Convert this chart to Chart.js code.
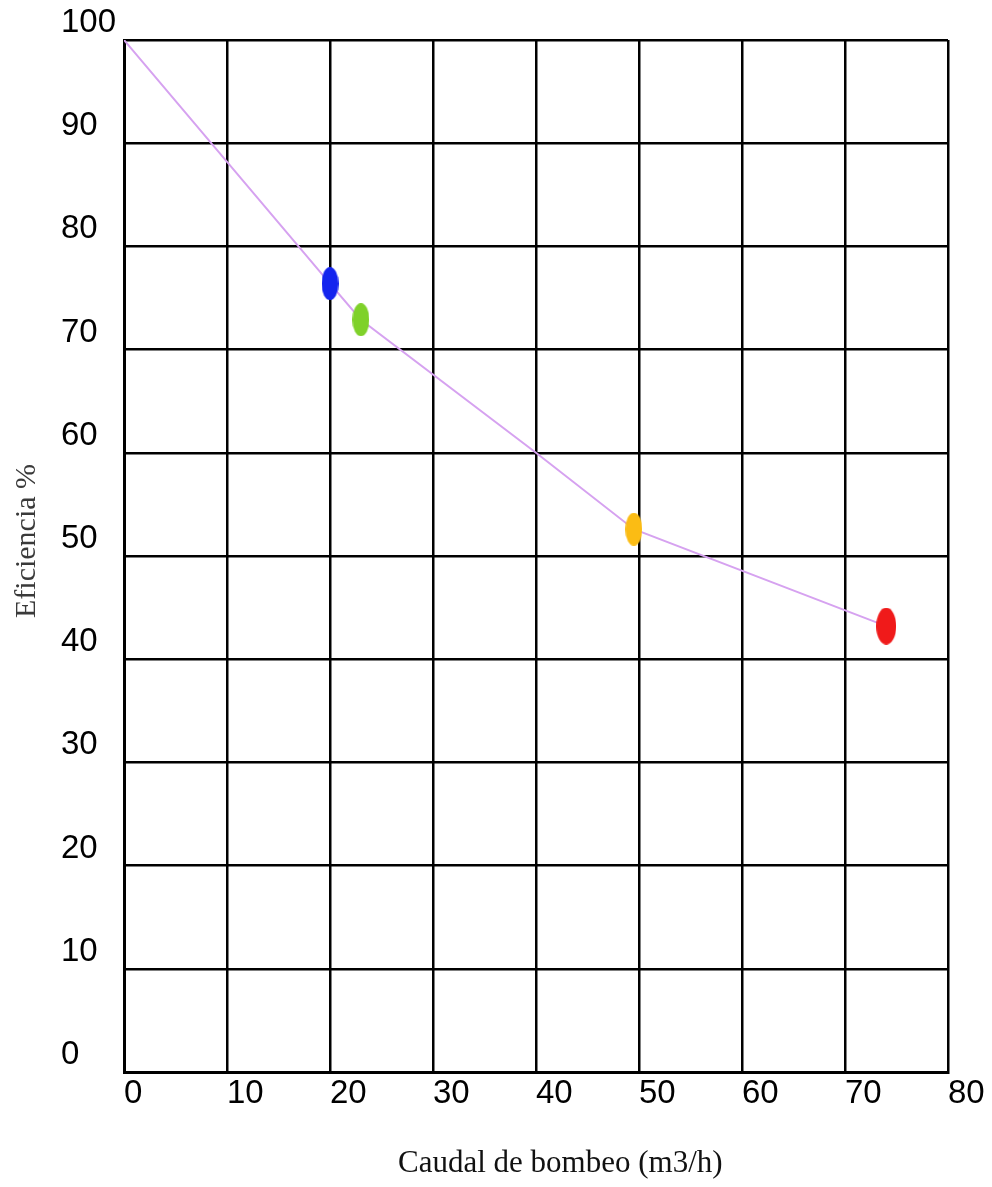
<!DOCTYPE html>
<html>
<head>
<meta charset="utf-8">
<script src="https://cdn.jsdelivr.net/npm/chart.js@4/dist/chart.umd.min.js"></script>
<style>
  html, body { margin: 0; padding: 0; background: #fff; }
  #wrap { position: relative; width: 992px; height: 1187px; }
</style>
</head>
<body>
<div id="wrap"><canvas id="grafico"></canvas></div>
<script>
// curva de eficiencia
const caudalCurva = [0, 20, 23, 40, 49.5, 74];
const eficienciaCurva = [100, 76.4, 72.9, 60, 52.6, 43.2];

// puntos de operación
const caudalPuntos = [20, 23, 49.5, 74];
const eficienciaPuntos = [76.4, 72.9, 52.6, 43.2];
const coloresPuntos = ['#1424ee', '#7fd12a', '#fbbc14', '#f01a1a'];

// ticks
const ticksX = [0, 10, 20, 30, 40, 50, 60, 70, 80];
const ticksY = [0, 10, 20, 30, 40, 50, 60, 70, 80, 90, 100];

const tituloX = 'Caudal de bombeo (m3/h)';
const tituloY = 'Eficiencia %';

// marcador elíptico
function elipse(color, w, h) {
    const c = document.createElement('canvas');
    c.width = w; c.height = h;
    const ctx = c.getContext('2d');
    ctx.fillStyle = color;
    ctx.beginPath();
    ctx.ellipse(w / 2, h / 2, w / 2, h / 2, 0, 0, Math.PI * 2);
    ctx.fill();
    return c;
}
const estilosPuntos = coloresPuntos.map((c, i) => i === 3 ? elipse(c, 20, 37) : elipse(c, 17, 33));

// títulos de ejes
const titulos = {
    id: 'titulos',
    afterDraw(chart) {
        const ctx = chart.ctx;
        ctx.save();
        ctx.fillStyle = '#111';
        ctx.font = '31px "Liberation Serif", "Times New Roman", serif';
        ctx.textAlign = 'left';
        ctx.textBaseline = 'alphabetic';
        ctx.fillText(tituloX, 398, 1172);
        ctx.fillStyle = '#3a3a3a';
        ctx.font = '30px "Liberation Serif", "Times New Roman", serif';
        ctx.translate(35, 618);
        ctx.rotate(-Math.PI / 2);
        ctx.fillText(tituloY, 0, 0);
        ctx.restore();
    }
};

new Chart(document.getElementById('grafico'), {
    type: 'scatter',
    data: {
        datasets: [{
            data: caudalPuntos.map((x, i) => ({ x, y: eficienciaPuntos[i] })),
            pointStyle: estilosPuntos,
            pointRadius: 10,
            showLine: false
        }, {
            data: caudalCurva.map((x, i) => ({ x, y: eficienciaCurva[i] })),
            showLine: true,
            borderColor: '#d6a2f0',
            borderWidth: 2,
            pointRadius: 0,
            tension: 0
        }]
    },
    options: {
        responsive: true,
        maintainAspectRatio: false,
        animation: false,
        layout: { padding: { left: 61, top: 40, right: 44, bottom: 0 } },
        plugins: { legend: { display: false }, tooltip: { enabled: false } },
        scales: {
            x: {
                type: 'linear',
                min: 0, max: 80,
                afterFit(s) { s.height = 115; },
                afterBuildTicks(s) { s.ticks = ticksX.map(v => ({ value: v })); },
                grid: { color: '#000', lineWidth: 2.5, drawTicks: false },
                border: { color: '#000', width: 3 },
                ticks: {
                    align: 'start',
                    padding: 2,
                    color: '#000',
                    font: { family: '"Liberation Sans", Arial, sans-serif', size: 33 }
                }
            },
            y: {
                type: 'linear',
                min: 0, max: 100,
                afterFit(s) { s.width = 63; },
                afterBuildTicks(s) { s.ticks = ticksY.map(v => ({ value: v })); },
                grid: { color: '#000', lineWidth: 2.5, drawTicks: false },
                border: { color: '#000', width: 3 },
                ticks: {
                    crossAlign: 'far',
                    labelOffset: -17,
                    color: '#000',
                    font: { family: '"Liberation Sans", Arial, sans-serif', size: 33 }
                }
            }
        }
    },
    plugins: [titulos]
});
</script>
</body>
</html>
